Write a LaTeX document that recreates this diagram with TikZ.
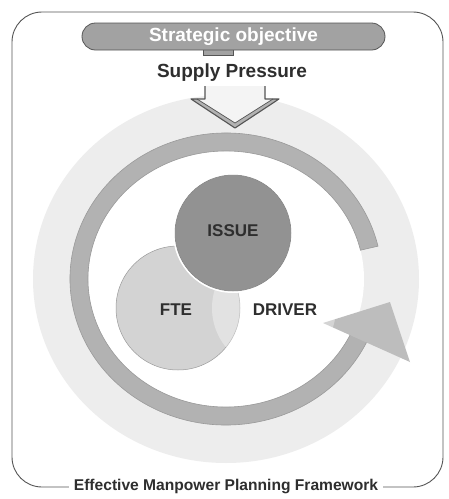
\documentclass[tikz,border=0pt]{standalone}
\usepackage{fontspec}
\setmainfont{Liberation Sans}
\usetikzlibrary{calc}
\definecolor{ringgray}{HTML}{B2B2B2}
\definecolor{ringedge}{HTML}{9A9A9A}
\definecolor{faint}{HTML}{EDEDED}
\definecolor{issuegray}{HTML}{929292}
\definecolor{ftegray}{HTML}{D3D3D3}
\definecolor{pillgray}{HTML}{A2A2A2}
\definecolor{framegray}{HTML}{555555}
\definecolor{textdark}{HTML}{2E2E2E}
\tikzset{
  lbl/.style={font=\bfseries\fontsize{17}{17}\selectfont, text=textdark, inner sep=0pt},
  bubble/.style={circle, inner sep=0pt},
}
\begin{document}
\begin{tikzpicture}[x=1pt,y=-1pt]
\useasboundingbox (0,0) rectangle (449,499);
\fill[white] (0,0) rectangle (449,499);
% frame
\draw[framegray, line width=0.9pt, rounded corners=30pt] (12,12) rectangle (443,487);
\node[fill=white, inner xsep=5pt, inner ysep=2pt, font=\bfseries\fontsize{15.6}{15.6}\selectfont, text=textdark] (caption) at (226,486) {Effective Manpower Planning Framework};
% outer faint ring
\coordinate (c) at (226,279);
\fill[faint] (c) ellipse[x radius=193, y radius=184];
\fill[white] (c) ellipse[x radius=138, y radius=128];
% gray circular arrow
\fill[ringgray, draw=ringedge, line width=0.6pt]
  ($(c)+(-13:156 and 146)$) arc[start angle=-13, end angle=-336, x radius=156, y radius=146]
  -- ($(c)+(24:138 and 128)$) arc[start angle=-336, end angle=-13, x radius=138, y radius=128]
  -- cycle;
\fill[ringgray!85] (323,323) -- (390,302) -- (410,362) -- cycle;
% strategic objective pill
\fill[pillgray, draw=framegray, line width=0.6pt] (203,48) rectangle (233,55);
\node[draw=framegray, fill=pillgray, line width=0.8pt, rounded corners=13.5pt, minimum width=303pt, minimum height=27pt, inner sep=0pt,
  font=\bfseries\fontsize{19}{19}\selectfont, text=white] (objective) at (233.5,36.5) {Strategic objective};
\node[font=\bfseries\fontsize{19}{19}\selectfont, text=textdark, inner sep=0pt] (supply) at (232,73) {Supply Pressure};
% hollow down arrow
\fill[faint!60] (205,86) -- (205,99) -- (191,99) -- (235,128) -- (279,99) -- (265,99) -- (265,86) -- cycle;
\fill[ringgray] (191,99) -- (235,128) -- (279,99) -- (273,99) -- (235,123) -- (197,99) -- cycle;
\draw[framegray, line width=1.1pt, line join=round] (205,86) -- (205,99) -- (191,99) -- (235,128) -- (279,99) -- (265,99) -- (265,86);
\draw[framegray, line width=0.7pt] (197,99) -- (235,123) -- (273,99);
% circles
\node[bubble, fill=ftegray, draw=ringedge, line width=0.5pt, minimum size=124pt] (fte) at (178,308) {};
\node[bubble, fill=white, fill opacity=0.35, minimum size=124pt] (driver) at (274,308) {};
\node[bubble, fill=issuegray, draw=white, line width=2pt, minimum size=118pt] (issue) at (233,233) {};
\draw[ringedge!80!black, line width=0.5pt] (issue) circle[radius=58];
% labels
\node[lbl] (issuelbl) at (233,231) {ISSUE};
\node[lbl] (ftelbl) at (176,310) {FTE};
\node[lbl] (driverlbl) at (285,310) {DRIVER};
\end{tikzpicture}
\end{document}
